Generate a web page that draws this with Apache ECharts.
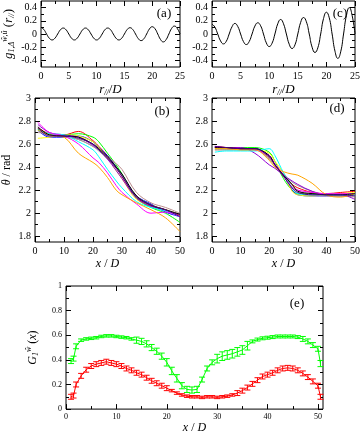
<!DOCTYPE html>
<html>
<head>
<meta charset="utf-8">
<script src="https://cdn.jsdelivr.net/npm/echarts@6/dist/echarts.min.js"></script>
<style>
html, body { margin: 0; padding: 0; background: #fff; }
#chart { width: 363px; height: 435px; }
</style>
</head>
<body>
<div id="chart"></div>
<script>
// (a), (c): correlation against r_par / D, every 0.5
var rPar = [0, 0.5, 1, 1.5, 2, 2.5, 3, 3.5, 4, 4.5, 5, 5.5, 6, 6.5, 7, 7.5, 8, 8.5, 9, 9.5,
  10, 10.5, 11, 11.5, 12, 12.5, 13, 13.5, 14, 14.5, 15, 15.5, 16, 16.5, 17, 17.5, 18, 18.5, 19, 19.5,
  20, 20.5, 21, 21.5, 22, 22.5, 23, 23.5, 24, 24.5, 25];
var gA = [0.10, 0.07, 0, -0.064, -0.09, -0.064, 0, 0.064, 0.09,
  0.064, 0, -0.064, -0.09, -0.064, 0, 0.064, 0.09,
  0.064, 0, -0.064, -0.09, -0.064, 0, 0.065, 0.09,
  0.065, 0, -0.064, -0.09, -0.065, 0, 0.067, 0.095,
  0.068, 0, -0.07, -0.10, -0.072, 0, 0.076, 0.11,
  0.08, 0, -0.083, -0.12, -0.085, 0, 0.085, 0.12,
  0.085, 0];
var gC = [0.15, 0.105, 0, -0.105, -0.15, -0.11, 0, 0.11, 0.16,
  0.115, 0, -0.115, -0.16, -0.115, 0, 0.12, 0.17,
  0.125, 0, -0.135, -0.19, -0.14, 0, 0.155, 0.22,
  0.155, 0, -0.155, -0.22, -0.165, 0, 0.177, 0.25,
  0.185, 0, -0.2, -0.28, -0.21, 0, 0.235, 0.33,
  0.245, 0, -0.26, -0.37, -0.27, 0, 0.28, 0.40,
  0.28, 0];

// (b), (d): theta profiles
var xTheta = [1, 5, 10, 15, 20, 22, 25, 28, 30, 35, 40, 45, 50];
var curveColors = ['#ff0000', '#00ff00', '#0000ff', '#ffff00', '#bc8f8f', '#999999',
  '#9400d3', '#00ffff', '#ff00ff', '#ffa500', '#000000', '#4b0082'];

var bRed     = [2.74, 2.69, 2.68, 2.71, 2.63, 2.58, 2.50, 2.40, 2.32, 2.14, 2.06, 2.03, 1.98];
var bGreen   = [2.73, 2.68, 2.68, 2.69, 2.66, 2.62, 2.52, 2.42, 2.34, 2.13, 2.05, 2.00, 1.92];
var bBlue    = [2.72, 2.66, 2.66, 2.67, 2.62, 2.57, 2.50, 2.40, 2.33, 2.15, 2.08, 2.01, 1.97];
var bYellow  = [2.65, 2.66, 2.68, 2.67, 2.62, 2.57, 2.48, 2.37, 2.30, 2.12, 2.07, 2.03, 1.99];
var bTan     = [2.70, 2.69, 2.67, 2.64, 2.58, 2.55, 2.49, 2.43, 2.38, 2.18, 2.09, 2.05, 2.00];
var bGray    = [2.72, 2.68, 2.66, 2.64, 2.58, 2.54, 2.47, 2.39, 2.33, 2.15, 2.07, 2.03, 1.99];
var bViolet  = [2.77, 2.70, 2.68, 2.66, 2.59, 2.55, 2.47, 2.37, 2.30, 2.13, 2.06, 2.02, 1.99];
var bCyan    = [2.72, 2.69, 2.68, 2.62, 2.55, 2.49, 2.38, 2.28, 2.22, 2.10, 2.05, 2.02, 1.97];
var bMagenta = [2.79, 2.70, 2.67, 2.60, 2.48, 2.44, 2.35, 2.24, 2.18, 2.08, 2.00, 2.01, 1.97];
var bOrange  = [2.72, 2.68, 2.66, 2.52, 2.44, 2.40, 2.31, 2.20, 2.16, 2.09, 2.03, 1.96, 1.84];
var bBlack   = [2.75, 2.68, 2.67, 2.66, 2.60, 2.56, 2.49, 2.40, 2.34, 2.15, 2.07, 2.03, 1.99];
var bIndigo  = [2.74, 2.67, 2.67, 2.65, 2.60, 2.55, 2.48, 2.39, 2.32, 2.14, 2.07, 2.03, 1.97];

var dRed     = [2.58, 2.57, 2.56, 2.56, 2.48, 2.42, 2.32, 2.25, 2.22, 2.18, 2.17, 2.18, 2.19];
var dGreen   = [2.57, 2.57, 2.57, 2.57, 2.53, 2.45, 2.30, 2.20, 2.17, 2.17, 2.17, 2.17, 2.17];
var dBlue    = [2.57, 2.56, 2.56, 2.56, 2.50, 2.42, 2.33, 2.20, 2.16, 2.15, 2.15, 2.15, 2.16];
var dYellow  = [2.56, 2.56, 2.55, 2.55, 2.52, 2.45, 2.35, 2.19, 2.16, 2.15, 2.16, 2.17, 2.18];
var dTan     = [2.55, 2.55, 2.55, 2.55, 2.48, 2.42, 2.35, 2.24, 2.20, 2.16, 2.15, 2.15, 2.14];
var dGray    = [2.55, 2.55, 2.55, 2.55, 2.47, 2.41, 2.33, 2.27, 2.24, 2.19, 2.16, 2.15, 2.15];
var dViolet  = [2.58, 2.57, 2.57, 2.52, 2.42, 2.39, 2.33, 2.28, 2.25, 2.19, 2.16, 2.16, 2.12];
var dCyan    = [2.53, 2.54, 2.54, 2.54, 2.56, 2.50, 2.35, 2.22, 2.17, 2.16, 2.16, 2.16, 2.16];
var dMagenta = [2.57, 2.57, 2.56, 2.55, 2.50, 2.43, 2.33, 2.22, 2.20, 2.18, 2.17, 2.17, 2.17];
var dOrange  = [2.56, 2.56, 2.55, 2.55, 2.46, 2.40, 2.36, 2.34, 2.33, 2.26, 2.16, 2.14, 2.17];
var dBlack   = [2.57, 2.57, 2.56, 2.56, 2.50, 2.42, 2.33, 2.25, 2.19, 2.17, 2.16, 2.16, 2.17];
var dIndigo  = [2.58, 2.57, 2.56, 2.56, 2.49, 2.42, 2.32, 2.22, 2.18, 2.16, 2.16, 2.16, 2.15];

// (e): G(x) with error bars
var xE = [1, 1.5, 2, 3, 4, 5, 6, 7, 8, 9, 10, 11, 12, 13, 14, 15, 16, 17, 18, 19, 20,
  21, 22, 23, 24, 25, 26, 27, 28, 29, 30, 31, 32, 33, 34, 35, 36, 37, 38, 39, 40,
  41, 42, 43, 44, 45, 46, 47, 48, 49, 50, 50.5];
var greenG = [0.39, 0.41, 0.51, 0.56, 0.57, 0.575, 0.58, 0.59, 0.595, 0.595, 0.59, 0.585, 0.58, 0.57, 0.56, 0.55, 0.53, 0.50, 0.47, 0.43, 0.38,
  0.31, 0.25, 0.19, 0.16, 0.155, 0.16, 0.24, 0.33, 0.38, 0.41, 0.43, 0.44, 0.45, 0.465, 0.48, 0.515, 0.55, 0.565, 0.575, 0.58,
  0.585, 0.59, 0.59, 0.59, 0.59, 0.585, 0.57, 0.55, 0.52, 0.49, 0.37];
var greenErr = [0.02, 0.02, 0.02, 0.01, 0.01, 0.01, 0.01, 0.01, 0.01, 0.01, 0.01, 0.01, 0.01, 0.01, 0.025, 0.025, 0.025, 0.025, 0.025, 0.025, 0.03,
  0.03, 0.03, 0.025, 0.025, 0.025, 0.025, 0.02, 0.02, 0.02, 0.035, 0.035, 0.035, 0.035, 0.035, 0.035, 0.035, 0.012, 0.012, 0.012, 0.012,
  0.012, 0.012, 0.012, 0.012, 0.012, 0.012, 0.02, 0.02, 0.02, 0.02, 0.025];
var redG = [0.10, 0.11, 0.20, 0.27, 0.32, 0.35, 0.365, 0.375, 0.385, 0.375, 0.365, 0.35, 0.33, 0.315, 0.295, 0.28, 0.255, 0.23, 0.21, 0.19, 0.17,
  0.15, 0.13, 0.115, 0.105, 0.10, 0.10, 0.095, 0.10, 0.10, 0.095, 0.10, 0.105, 0.115, 0.13, 0.15, 0.175, 0.205, 0.235, 0.265, 0.28,
  0.295, 0.315, 0.33, 0.335, 0.33, 0.315, 0.29, 0.26, 0.225, 0.19, 0.10];
var redErr = [0.02, 0.02, 0.02, 0.02, 0.02, 0.02, 0.02, 0.02, 0.02, 0.02, 0.02, 0.02, 0.02, 0.02, 0.02, 0.02, 0.02, 0.02, 0.02, 0.02, 0.02,
  0.01, 0.01, 0.01, 0.01, 0.01, 0.01, 0.01, 0.01, 0.01, 0.01, 0.01, 0.01, 0.01, 0.02, 0.02, 0.02, 0.02, 0.02, 0.02, 0.02,
  0.02, 0.02, 0.02, 0.02, 0.02, 0.02, 0.02, 0.02, 0.02, 0.02, 0.02];

// ticks
var ticksR = [0, 5, 10, 15, 20, 25];
var minorR = [2.5, 7.5, 12.5, 17.5, 22.5];
var ticksG = [-0.4, -0.2, 0, 0.2, 0.4];
var minorG = [-0.3, -0.1, 0.1, 0.3];
var ticksX = [0, 10, 20, 30, 40, 50];
var minorX = [5, 15, 25, 35, 45];
var ticksTheta = [1.8, 2, 2.2, 2.4, 2.6, 2.8, 3];
var minorTheta = [1.9, 2.1, 2.3, 2.5, 2.7, 2.9];
var ticksE = [0, 0.2, 0.4, 0.6, 0.8, 1];
var minorE = [0.1, 0.3, 0.5, 0.7, 0.9];

var serif = 'Liberation Serif';
var grids = [], xAxes = [], yAxes = [], series = [], graphics = [];

function richStyle(size) {
  var small = Math.round(size * 0.65);
  return {
    i: { fontFamily: serif, fontStyle: 'italic', fontSize: size, color: '#000' },
    n: { fontFamily: serif, fontSize: size, color: '#000' },
    s: { fontFamily: serif, fontStyle: 'italic', fontSize: small, color: '#000', verticalAlign: 'bottom', padding: [7, 0, 0, 0] },
    u: { fontFamily: serif, fontStyle: 'italic', fontSize: small, color: '#000', verticalAlign: 'top', padding: [0, 0, 7, 0] }
  };
}

function addAxes(list, gi, sides, r, isX) {
  var main = list.length;
  sides.forEach(function (side, k) {
    list.push({
      type: 'value', gridIndex: gi, position: side, min: r.min, max: r.max,
      axisLine: { show: false, onZero: false },
      splitLine: { show: false },
      axisTick: { show: true, inside: true, length: 5, customValues: r.major, lineStyle: { color: '#000' } },
      axisLabel: {
        show: k === 0, customValues: r.major, margin: 4,
        fontFamily: serif, fontSize: r.fs, color: '#000',
        formatter: function (v) { return String(+(+v).toFixed(2)); }
      },
      name: k === 0 ? r.name : '', nameLocation: 'middle', nameGap: r.gap,
      nameRotate: isX ? 0 : 90,
      nameTextStyle: { rich: richStyle(r.ns) }
    });
    list.push({
      type: 'value', gridIndex: gi, position: side, min: r.min, max: r.max,
      axisLine: { show: false, onZero: false },
      splitLine: { show: false },
      axisTick: { show: true, inside: true, length: 3, customValues: r.minor, lineStyle: { color: '#000' } },
      axisLabel: { show: false }
    });
  });
  return main;
}

function panel(box, xr, yr, tag, tagPos) {
  var gi = grids.length;
  grids.push({ left: box[0], top: box[1], width: box[2], height: box[3], show: true, borderColor: '#000', borderWidth: 1 });
  var xi = addAxes(xAxes, gi, ['bottom', 'top'], xr, true);
  var yi = addAxes(yAxes, gi, ['left', 'right'], yr, false);
  graphics.push({ type: 'text', x: tagPos[0], y: tagPos[1], style: { text: tag, font: '13px "Liberation Serif"', fill: '#000', align: 'center', verticalAlign: 'middle' } });
  return { x: xi, y: yi };
}

function pairs(xs, ys) {
  return xs.map(function (x, i) { return [x, ys[i]]; });
}

function lineSeries(ax, xs, ys, color, smooth) {
  series.push({
    type: 'line', xAxisIndex: ax.x, yAxisIndex: ax.y, data: pairs(xs, ys),
    showSymbol: false, smooth: smooth, silent: true,
    lineStyle: { color: color, width: 1 }
  });
}

function errorBars(ax, xs, ys, errs, color) {
  series.push({
    type: 'custom', xAxisIndex: ax.x, yAxisIndex: ax.y, silent: true,
    data: xs.map(function (x, i) { return [x, ys[i] - errs[i], ys[i] + errs[i]]; }),
    encode: { x: 0, y: [1, 2] },
    renderItem: function (params, api) {
      var lo = api.coord([api.value(0), api.value(1)]);
      var hi = api.coord([api.value(0), api.value(2)]);
      var w = 3;
      var st = { stroke: color, lineWidth: 1 };
      return {
        type: 'group', children: [
          { type: 'line', shape: { x1: lo[0], y1: lo[1], x2: hi[0], y2: hi[1] }, style: st },
          { type: 'line', shape: { x1: lo[0] - w, y1: lo[1], x2: lo[0] + w, y2: lo[1] }, style: st },
          { type: 'line', shape: { x1: hi[0] - w, y1: hi[1], x2: hi[0] + w, y2: hi[1] }, style: st }
        ]
      };
    }
  });
}

var nameR = '{i|r}{s|//}{n|/}{i|D}';
var nameX = '{i|x}{n| / }{i|D}';

// (a)
var axA = panel([36, 1, 144, 66],
  { min: 0, max: 25, major: ticksR, minor: minorR, fs: 10, name: nameR, gap: 15, ns: 13 },
  { min: -0.5, max: 0.5, major: ticksG, minor: minorG, fs: 10, name: '{i|g}{s|1,Δ}{u|ŵ,û}{n| (}{i|r}{s|//}{n|)}', gap: 25, ns: 13 },
  '(a)', [164, 14]);
lineSeries(axA, rPar, gA, '#000', true);

// (c)
var axC = panel([212, 1, 144, 66],
  { min: 0, max: 25, major: ticksR, minor: minorR, fs: 10, name: nameR, gap: 15, ns: 13 },
  { min: -0.5, max: 0.5, major: ticksG, minor: minorG, fs: 10, name: '', gap: 25, ns: 13 },
  '(c)', [340, 14]);
lineSeries(axC, rPar, gC, '#000', true);

// (b)
var axB = panel([35, 98, 145, 144],
  { min: 0, max: 50, major: ticksX, minor: minorX, fs: 10, name: nameX, gap: 16, ns: 12 },
  { min: 1.75, max: 3, major: ticksTheta, minor: minorTheta, fs: 10, name: '{i|θ}{n| / rad}', gap: 22, ns: 12 },
  '(b)', [162, 112]);
[bRed, bGreen, bBlue, bYellow, bTan, bGray, bViolet, bCyan, bMagenta, bOrange, bBlack, bIndigo].forEach(function (ys, i) {
  lineSeries(axB, xTheta, ys, curveColors[i], 0.35);
});

// (d)
var axD = panel([212, 98, 144, 144],
  { min: 0, max: 50, major: ticksX, minor: minorX, fs: 10, name: nameX, gap: 16, ns: 12 },
  { min: 1.75, max: 3, major: ticksTheta, minor: minorTheta, fs: 10, name: '', gap: 22, ns: 12 },
  '(d)', [337, 109]);
[dRed, dGreen, dBlue, dYellow, dTan, dGray, dViolet, dCyan, dMagenta, dOrange, dBlack, dIndigo].forEach(function (ys, i) {
  lineSeries(axD, xTheta, ys, curveColors[i], 0.35);
});

// (e)
var axE = panel([66, 286, 257, 130],
  { min: 0, max: 51, major: ticksX, minor: minorX, fs: 8, name: nameX, gap: 12, ns: 12 },
  { min: 0, max: 1, major: ticksE, minor: minorE, fs: 8, name: '{i|G}{s|1}{u|ŵ}{n| (}{i|x}{n|)}', gap: 26, ns: 12 },
  '(e)', [297, 304]);
lineSeries(axE, xE, greenG, '#00ff00', false);
errorBars(axE, xE, greenG, greenErr, '#00ff00');
lineSeries(axE, xE, redG, '#ff0000', false);
errorBars(axE, xE, redG, redErr, '#ff0000');

var chart = echarts.init(document.getElementById('chart'), null, { renderer: 'canvas' });
chart.setOption({
  animation: false,
  backgroundColor: '#fff',
  grid: grids,
  xAxis: xAxes,
  yAxis: yAxes,
  series: series,
  graphic: graphics
});
</script>
</body>
</html>
